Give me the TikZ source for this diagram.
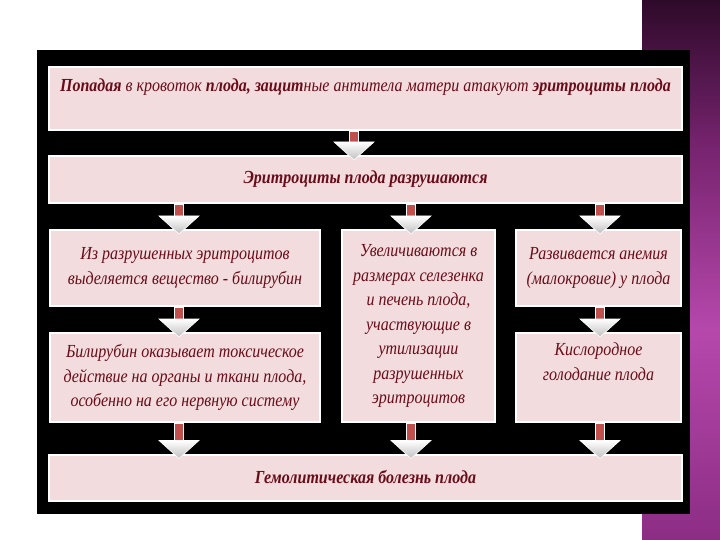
\documentclass[tikz,border=0pt]{standalone}
\usepackage{fontspec}
\setmainfont{Liberation Serif}[FakeStretch=0.87]
\usetikzlibrary{calc}
\definecolor{boxpink}{RGB}{242,220,221}
\definecolor{txtred}{RGB}{105,12,26}
\definecolor{arrred}{RGB}{192,80,77}
\definecolor{pA}{RGB}{46,10,42}
\definecolor{pB}{RGB}{120,36,112}
\definecolor{pC}{RGB}{182,72,172}
\definecolor{pD}{RGB}{140,45,132}
\tikzset{
  box/.style={fill=boxpink, draw=white, line width=2pt, text=txtred, align=center,
    inner sep=0pt, font=\itshape\fontsize{18.4}{24.5}\selectfont},
  shaft/.style={fill=arrred, draw=white, line width=1.4pt},
  arrhead/.style={top color=white, bottom color=gray!50, draw=white, line width=0.6pt}
}
\newcommand{\blockarrow}[3]{%
  \path let \p1=(#2.south), \p2=(#3.north) in
    [shaft] (#1pt-4.5pt,\y1) rectangle (#1pt+4.5pt,\y2+11pt);
  \path let \p1=(#2.south), \p2=(#3.north) in
    [arrhead] (#1pt-20pt,\y2+13pt) -- (#1pt+20pt,\y2+13pt) -- (#1pt,\y2-5pt) -- cycle;
}
\begin{document}
\begin{tikzpicture}[x=1pt,y=-1pt]
\useasboundingbox (0,0) rectangle (720,540);
\fill[white] (0,0) rectangle (720,540);
\shade[top color=pA, bottom color=pB] (642,0) rectangle (720,150);
\shade[top color=pB, bottom color=pC] (642,150) rectangle (720,330);
\shade[top color=pC, bottom color=pD] (642,330) rectangle (720,540);
\fill[black] (37,50) rectangle (690,514);

\node[box, minimum width=633pt, minimum height=63pt, font=\itshape\fontsize{18.4}{20}\selectfont] (b1) at (365.5,98.5)
  {\textbf{Попадая} в кровоток \textbf{плода, защит}ные антитела матери атакуют \textbf{эритроциты плода}\\ \strut};
\node[box, minimum width=633pt, minimum height=47pt] (b2) at (365.5,179.5)
  {\textbf{Эритроциты плода разрушаются}};
\node[box, minimum width=270pt, minimum height=76pt] (b3) at (185,268)
  {Из разрушенных эритроцитов\\выделяется вещество - билирубин};
\node[box, minimum width=153pt, minimum height=192pt] (b4) at (418.5,326)
  {Увеличиваются в\\размерах селезенка\\и печень плода,\\участвующие в\\утилизации\\разрушенных\\эритроцитов};
\node[box, minimum width=165pt, minimum height=76pt] (b5) at (598.5,268)
  {Развивается анемия\\(малокровие) у плода};
\node[box, minimum width=270pt, minimum height=89pt] (b6) at (185,377.5)
  {Билирубин оказывает токсическое\\действие на органы и ткани плода,\\особенно на его нервную систему};
\node[box, minimum width=165pt, minimum height=89pt] (b7) at (598.5,377.5)
  {Кислородное\\голодание плода\\ \strut};
\node[box, minimum width=633pt, minimum height=46pt] (b8) at (365.5,477.5)
  {\textbf{Гемолитическая болезнь плода}};

\blockarrow{354}{b1}{b2}
\blockarrow{179}{b2}{b3}
\blockarrow{411}{b2}{b4}
\blockarrow{600}{b2}{b5}
\blockarrow{179}{b3}{b6}
\blockarrow{600}{b5}{b7}
\blockarrow{179}{b6}{b8}
\blockarrow{411}{b4}{b8}
\blockarrow{600}{b7}{b8}
\end{tikzpicture}
\end{document}
